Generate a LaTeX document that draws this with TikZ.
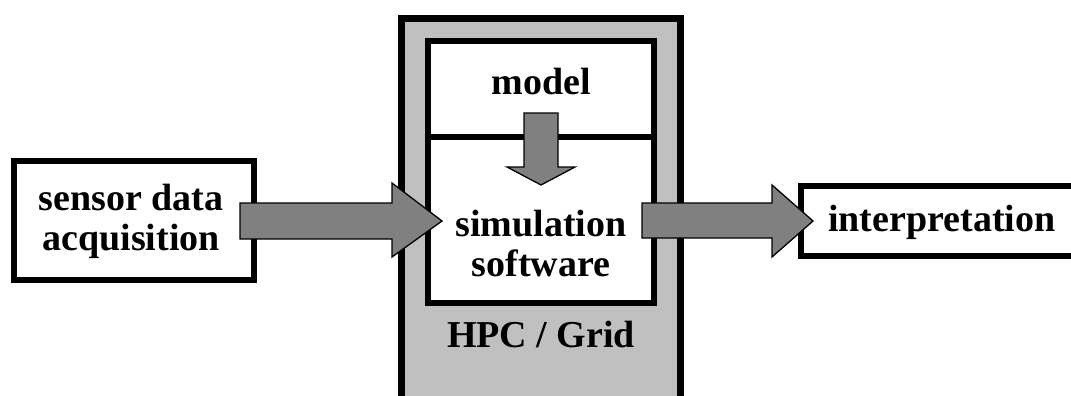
\documentclass[tikz,border=0pt]{standalone}
\usepackage{fontspec}
\setmainfont{Liberation Serif}
\usetikzlibrary{calc}
\definecolor{hpcgray}{HTML}{C0C0C0}
\definecolor{arrowgray}{HTML}{808080}
\tikzset{
  boxframe/.style={draw=black, line width=6pt, fill=white, inner sep=0pt},
  hpcframe/.style={draw=black, line width=7pt, fill=hpcgray, inner sep=0pt},
  label/.style={font=\bfseries\fontsize{38}{40}\selectfont, align=center, inner sep=0pt},
  blockarrow/.style={draw=black, line width=1.3pt, fill=arrowgray, line join=miter}
}
\begin{document}
\begin{tikzpicture}[x=1pt, y=-1pt]
\useasboundingbox (0,0) rectangle (1071,396);
\clip (0,0) rectangle (1071,396);
\fill[white] (0,0) rectangle (1071,396);
% boxes
\node[boxframe, minimum width=240, minimum height=119] (sensor) at (134,220.5) {};
\node[hpcframe, minimum width=279, minimum height=420] (hpc) at (541,228.5) {};
\node[boxframe, minimum width=226, minimum height=262] (inner) at (541,172) {};
\draw[line width=6pt] (inner.west |- 0,137) coordinate (divl) -- (inner.east |- 0,137) coordinate (divr);
\node[boxframe, minimum width=300, minimum height=70] (interp) at (951,221) {};
% texts
\node[label] (sensortxt) at (131,221) {sensor data\\acquisition};
\node[label] (model) at (541,82) {model};
\node[label] (sim) at (541,244) {simulation\\software};
\node[label] (grid) at (541,334) {HPC / Grid};
\node[label, anchor=west] (interptxt) at (828,222) {interpretation};
% block arrows
\coordinate (a1s) at (240,221);
\coordinate (a1t) at (442,221);
\draw[blockarrow] (240,203) -- (392,203) -- (392,183) -- (a1t) -- (392,257) -- (392,239) -- (240,239) -- cycle;
\coordinate (a2t) at (541,185);
\draw[blockarrow] (524,113) -- (558,113) -- (558,167) -- (575,167) -- (a2t) -- (507,167) -- (524,167) -- cycle;
\coordinate (a3t) at (813,221);
\draw[blockarrow] (642,203) -- (772,203) -- (772,185) -- (a3t) -- (772,257) -- (772,238) -- (642,238) -- cycle;
\end{tikzpicture}
\end{document}
